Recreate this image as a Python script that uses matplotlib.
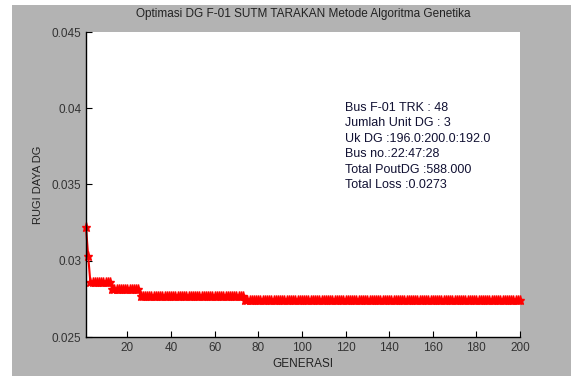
import numpy as np
import matplotlib.pyplot as plt
from matplotlib.patches import Rectangle

plt.rcParams['font.family'] = ['Liberation Sans', 'DejaVu Sans']

# best loss per generation
gen = np.arange(1, 201)
step_start = [1, 2, 3, 13, 26, 74]
step_loss = [0.0322, 0.0303, 0.0286, 0.02815, 0.02768, 0.02740]
loss = np.zeros(len(gen))
for s, v in zip(step_start, step_loss):
    loss[gen >= s] = v

info = ["Bus F-01 TRK : 48",
        "Jumlah Unit DG : 3",
        "Uk DG :196.0:200.0:192.0",
        "Bus no.:22:47:28",
        "Total PoutDG :588.000",
        "Total Loss :0.0273"]

W, H = 571, 376
fig = plt.figure(figsize=(W / 100, H / 100), dpi=100, facecolor='white')
fig.patches.append(Rectangle((12 / W, 0), 1 - 12 / W, 1 - 5 / H, transform=fig.transFigure,
                             facecolor='#b3b3b3', edgecolor='none', zorder=-1))

ax = fig.add_axes([86 / W, 1 - 337 / H, (520 - 86) / W, (337 - 32) / H])
ax.plot(gen, loss, color='red', linewidth=1.5, marker='*', markersize=6.5,
        markerfacecolor='red', markeredgecolor='red', clip_on=False)
ax.plot([1, 1], [0.0303, 0.0322], color='black', linewidth=1)

ax.set_xlim(1, 200)
ax.set_ylim(0.025, 0.045)
ax.set_xticks(np.arange(20, 201, 20))
ax.set_yticks([0.025, 0.03, 0.035, 0.04, 0.045])
ax.set_yticklabels(['0.025', '0.03', '0.035', '0.04', '0.045'])
ax.tick_params(direction='in', length=4, labelsize=8.5, colors='black', labelcolor='#333333')
for side in ['top', 'right']:
    ax.spines[side].set_visible(False)
for side in ['left', 'bottom']:
    ax.spines[side].set_linewidth(1)

ax.set_title("Optimasi DG F-01 SUTM TARAKAN Metode Algoritma Genetika", fontsize=8.5, pad=11, color='#222222')
ax.set_xlabel("GENERASI", fontsize=8.5, labelpad=3, color='#222222')
ax.set_ylabel("RUGI DAYA DG", fontsize=8, labelpad=6, color='#222222')

for i, t in enumerate(info):
    fig.text(345 / W, 1 - (108 + i * 15.4) / H, t, fontsize=9, color='#111133', va='center')

fig.savefig('out.png', dpi=100, facecolor=fig.get_facecolor())
